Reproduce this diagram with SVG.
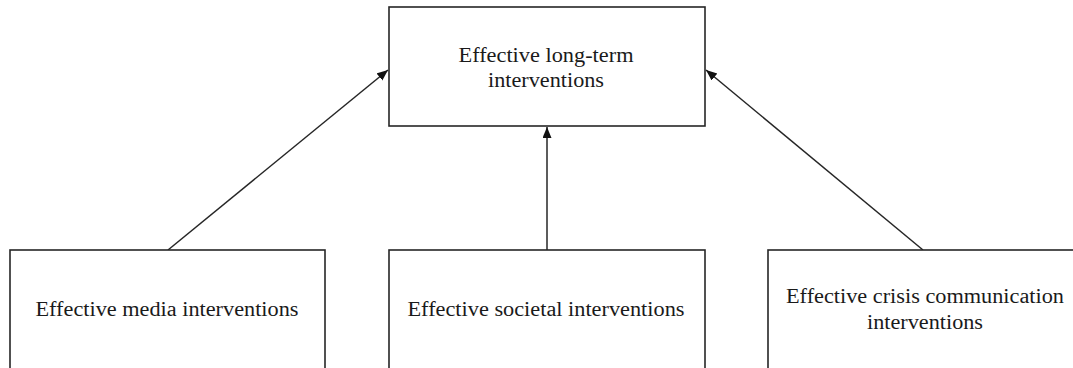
<svg xmlns="http://www.w3.org/2000/svg" width="1073" height="368" viewBox="0 0 1073 368">
  <style>
    .box { fill: #ffffff; stroke: #262626; stroke-width: 1.6; }
    .lbl { font-family: "Liberation Serif", "Times New Roman", serif; font-size: 20px; fill: #1a1a1a; text-anchor: middle; }
    .conn { stroke: #262626; stroke-width: 1.5; fill: none; marker-end: url(#arrow); }
  </style>
  <defs>
    <marker id="arrow" markerUnits="userSpaceOnUse" markerWidth="12" markerHeight="10" refX="11" refY="4.5" orient="auto">
      <path d="M0,0 L11,4.5 L0,9 z" fill="#111111"/>
    </marker>
  </defs>
  <rect width="1073" height="368" fill="#ffffff"/>
  <g id="connectors">
    <line class="conn" x1="168" y1="250" x2="388" y2="70"/>
    <line class="conn" x1="547" y1="250" x2="547" y2="127"/>
    <line class="conn" x1="923" y1="250" x2="706" y2="70"/>
  </g>
  <g id="node-longterm">
    <rect class="box" x="389" y="7" width="316" height="119"/>
    <text class="lbl" x="546" y="62" textLength="175" lengthAdjust="spacingAndGlyphs">Effective long-term</text>
    <text class="lbl" x="546" y="87" textLength="116" lengthAdjust="spacingAndGlyphs">interventions</text>
  </g>
  <g id="node-media">
    <rect class="box" x="10" y="250" width="315" height="125"/>
    <text class="lbl" x="167" y="316" textLength="263" lengthAdjust="spacingAndGlyphs">Effective media interventions</text>
  </g>
  <g id="node-societal">
    <rect class="box" x="389" y="250" width="316" height="125"/>
    <text class="lbl" x="546" y="316" textLength="277" lengthAdjust="spacingAndGlyphs">Effective societal interventions</text>
  </g>
  <g id="node-crisis">
    <rect class="box" x="768" y="250" width="316" height="125"/>
    <text class="lbl" x="925" y="303" textLength="278" lengthAdjust="spacingAndGlyphs">Effective crisis communication</text>
    <text class="lbl" x="925" y="329" textLength="116" lengthAdjust="spacingAndGlyphs">interventions</text>
  </g>
</svg>
